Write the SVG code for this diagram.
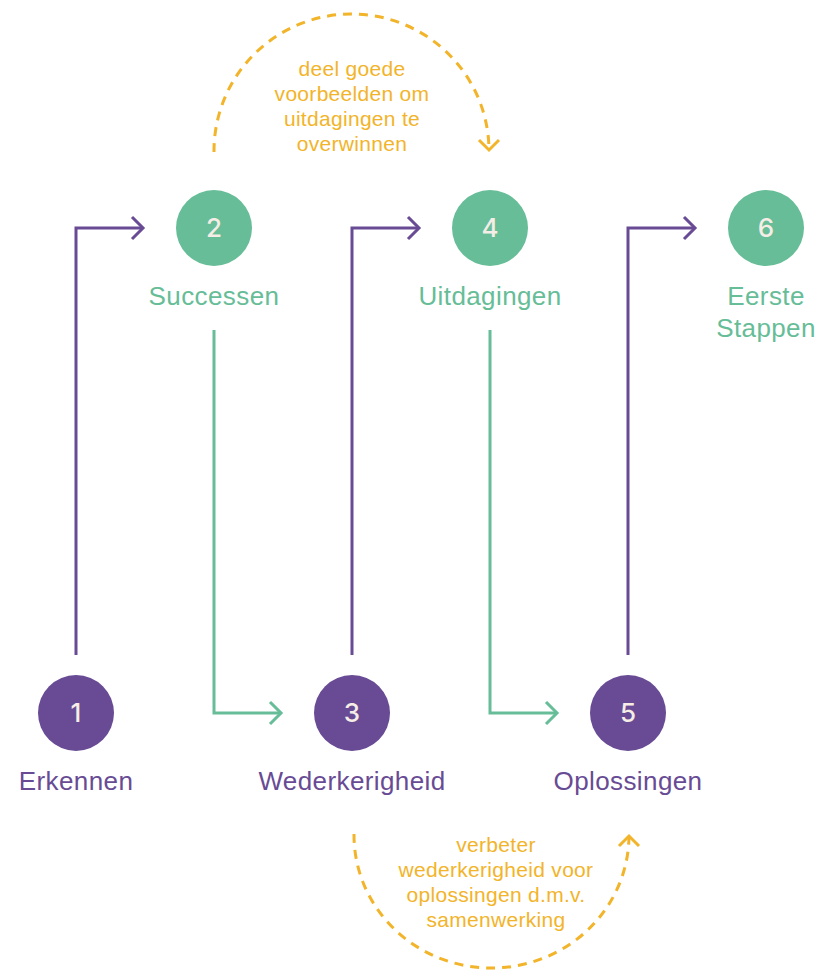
<svg xmlns="http://www.w3.org/2000/svg" width="823" height="971" viewBox="0 0 823 971">
<defs>
<style>
.bg{fill:#ffffff}
.cg{fill:#66bd97}
.cp{fill:#684b94}
.num{font-family:Inter,"Liberation Sans",Arial,sans-serif;font-size:26px;font-weight:500;fill:#f5ede6;text-anchor:middle}
.lg{font-family:"Liberation Sans",Arial,sans-serif;font-size:26px;fill:#66bd97;text-anchor:middle;letter-spacing:0.4px}
.lp{font-family:"Liberation Sans",Arial,sans-serif;font-size:26px;fill:#684b94;text-anchor:middle;letter-spacing:0.4px}
.lo{font-family:"Liberation Sans",Arial,sans-serif;font-size:21px;fill:#f2b42a;text-anchor:middle;letter-spacing:0.3px}
.sp{fill:none;stroke:#684b94;stroke-width:3}
.sg{fill:none;stroke:#66bd97;stroke-width:3}
.so{fill:none;stroke:#f2b42a;stroke-width:3;stroke-dasharray:9 7}
.ao{fill:none;stroke:#f2b42a;stroke-width:3}
</style>
</defs>
<rect class="bg" x="0" y="0" width="823" height="971"/>
<g id="connectors">
<path class="sp" d="M76 655 V228 H143"/>
<path class="sp" d="M132 217 L143 228 L132 239"/>
<path class="sg" d="M214 330 V713 H281"/>
<path class="sg" d="M270 702 L281 713 L270 724"/>
<path class="sp" d="M352 655 V228 H419"/>
<path class="sp" d="M408 217 L419 228 L408 239"/>
<path class="sg" d="M490 330 V713 H557"/>
<path class="sg" d="M546 702 L557 713 L546 724"/>
<path class="sp" d="M628 655 V228 H695"/>
<path class="sp" d="M684 217 L695 228 L684 239"/>
<path class="so" d="M214 152 A137.5 137 0 0 1 489 150"/>
<path class="ao" d="M479 140 L489 150 L499 140"/>
<path class="so" d="M354 834 A137.5 133 0 0 0 629 836"/>
<path class="ao" d="M619 846 L629 836 L639 846"/>
</g>
<g id="note-top">
<text class="lo" x="352" y="76">deel goede</text>
<text class="lo" x="352" y="101">voorbeelden om</text>
<text class="lo" x="352" y="126">uitdagingen te</text>
<text class="lo" x="352" y="151">overwinnen</text>
</g>
<g id="note-bottom">
<text class="lo" x="496" y="852">verbeter</text>
<text class="lo" x="496" y="877">wederkerigheid voor</text>
<text class="lo" x="496" y="902">oplossingen d.m.v.</text>
<text class="lo" x="496" y="927">samenwerking</text>
</g>
<g id="node1">
<circle class="cp" cx="76" cy="713" r="38"/>
<text class="num" x="76" y="722">1</text>
<text class="lp" x="76" y="790">Erkennen</text>
</g>
<g id="node2">
<circle class="cg" cx="214" cy="228" r="38"/>
<text class="num" x="214" y="237">2</text>
<text class="lg" x="214" y="305">Successen</text>
</g>
<g id="node3">
<circle class="cp" cx="352" cy="713" r="38"/>
<text class="num" x="352" y="722">3</text>
<text class="lp" x="352" y="790">Wederkerigheid</text>
</g>
<g id="node4">
<circle class="cg" cx="490" cy="228" r="38"/>
<text class="num" x="490" y="237">4</text>
<text class="lg" x="490" y="305">Uitdagingen</text>
</g>
<g id="node5">
<circle class="cp" cx="628" cy="713" r="38"/>
<text class="num" x="628" y="722">5</text>
<text class="lp" x="628" y="790">Oplossingen</text>
</g>
<g id="node6">
<circle class="cg" cx="766" cy="228" r="38"/>
<text class="num" x="766" y="237">6</text>
<text class="lg" x="766" y="305">Eerste</text>
<text class="lg" x="766" y="337">Stappen</text>
</g>
</svg>
